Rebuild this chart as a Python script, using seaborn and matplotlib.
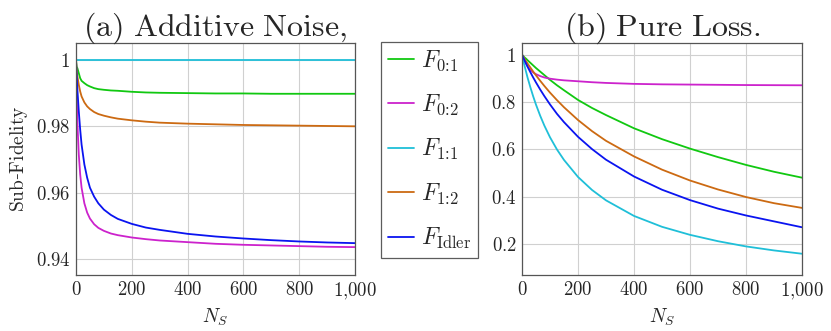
import numpy as np
import pandas as pd
import seaborn as sns
import matplotlib
matplotlib.use("Agg")
import matplotlib.pyplot as plt

sns.set_theme(style="white")
plt.rcParams['mathtext.fontset'] = 'cm'
plt.rcParams['font.family'] = ['DejaVu Serif']

N = [0, 2, 5, 10, 15, 20, 30, 40, 50, 65, 80, 100, 125, 150, 200, 250, 300, 400, 500, 600, 700, 800, 900, 1000]

# (a) Additive noise
a_F01 = [1.0, 0.998, 0.9975, 0.996, 0.9945, 0.9937, 0.993, 0.9924, 0.992, 0.9915, 0.9912, 0.991, 0.9908, 0.9907,
         0.9904, 0.9902, 0.9901, 0.9900, 0.9899, 0.9899, 0.9898, 0.9898, 0.9898, 0.9898]
a_F02 = [1.0, 0.991, 0.981, 0.9715, 0.9655, 0.9615, 0.9568, 0.954, 0.9522, 0.9505, 0.9494, 0.9485, 0.9477, 0.9472,
         0.9465, 0.946, 0.9456, 0.9451, 0.9446, 0.9443, 0.9441, 0.9439, 0.9437, 0.9436]
a_F11 = [1.0] * 24
a_F12 = [1.0, 0.997, 0.995, 0.9925, 0.9905, 0.989, 0.9872, 0.986, 0.9852, 0.9843, 0.9837, 0.9832, 0.9827, 0.9823,
         0.9818, 0.9814, 0.9811, 0.9808, 0.9806, 0.9804, 0.9803, 0.9802, 0.9801, 0.9800]
a_Fid = [1.0, 0.996, 0.991, 0.9845, 0.979, 0.9745, 0.9685, 0.9645, 0.9615, 0.9588, 0.9568, 0.9549, 0.9533, 0.9521,
         0.9506, 0.9495, 0.9488, 0.9476, 0.9468, 0.9462, 0.9457, 0.9453, 0.9450, 0.9448]

# (b) Pure loss
b_F01 = [1.0, 0.998, 0.994, 0.988, 0.983, 0.977, 0.966, 0.955, 0.944, 0.929, 0.914, 0.894, 0.871, 0.85,
         0.809, 0.775, 0.745, 0.689, 0.643, 0.603, 0.567, 0.534, 0.505, 0.48]
b_F02 = [1.0, 0.994, 0.985, 0.972, 0.961, 0.951, 0.936, 0.925, 0.918, 0.91, 0.904, 0.899, 0.895, 0.892,
         0.888, 0.884, 0.881, 0.877, 0.875, 0.874, 0.873, 0.872, 0.8715, 0.871]
b_F11 = [1.0, 0.989, 0.974, 0.949, 0.926, 0.903, 0.862, 0.824, 0.789, 0.742, 0.700, 0.651, 0.599, 0.555,
         0.483, 0.428, 0.384, 0.318, 0.272, 0.238, 0.211, 0.189, 0.172, 0.158]
b_F12 = [1.0, 0.996, 0.991, 0.981, 0.972, 0.963, 0.946, 0.929, 0.913, 0.89, 0.868, 0.84, 0.808, 0.778,
         0.724, 0.677, 0.636, 0.57, 0.514, 0.468, 0.43, 0.398, 0.372, 0.352]
b_Fid = [1.0, 0.995, 0.987, 0.974, 0.962, 0.949, 0.926, 0.904, 0.883, 0.853, 0.825, 0.79, 0.75, 0.715,
         0.653, 0.601, 0.556, 0.485, 0.429, 0.385, 0.349, 0.32, 0.295, 0.27]

labels = [r"$F_{0\!:\!1}$", r"$F_{0\!:\!2}$", r"$F_{1\!:\!1}$", r"$F_{1\!:\!2}$", r"$F_{\mathrm{Idler}}$"]
colors = ["#11c811", "#cc22cc", "#1fbfd8", "#cc6a12", "#0a14f0"]

def longform(series):
    rows = []
    for lab, vals in zip(labels, series):
        for n, v in zip(N, vals):
            rows.append((n, v, lab))
    return pd.DataFrame(rows, columns=["N", "F", "series"])

dfa = longform([a_F01, a_F02, a_F11, a_F12, a_Fid])
dfb = longform([b_F01, b_F02, b_F11, b_F12, b_Fid])
pal = dict(zip(labels, colors))

fig = plt.figure(figsize=(8.31, 3.31), dpi=100)
axa = fig.add_axes([76/831, 56/331, 279/831, 232/331])
axb = fig.add_axes([522/831, 56/331, 280/831, 232/331])

sns.lineplot(data=dfa, x="N", y="F", hue="series", palette=pal, ax=axa, linewidth=1.3, legend=True)
sns.lineplot(data=dfb, x="N", y="F", hue="series", palette=pal, ax=axb, linewidth=1.3, legend=False)

handles, labs = axa.get_legend_handles_labels()
axa.get_legend().remove()

xt = [0, 200, 400, 600, 800, 1000]
xtl = ["$0$", "$200$", "$400$", "$600$", "$800$", "$1{,}000$"]
for ax in (axa, axb):
    ax.set_xlim(0, 1000)
    ax.set_xticks(xt)
    ax.set_xticklabels(xtl, fontsize=13.5)
    ax.grid(True, color="#d0d0d0", linewidth=0.8)
    ax.set_axisbelow(True)
    for s in ax.spines.values():
        s.set_color("#555555")
        s.set_linewidth(0.9)
    ax.tick_params(direction="in", length=3, color="#777777", pad=4)
    ax.set_xlabel(r"$N_S$", fontsize=14, labelpad=4)

axa.set_ylim(0.9352, 1.0051)
axa.set_yticks([0.94, 0.96, 0.98, 1.0])
axa.set_yticklabels(["$0.94$", "$0.96$", "$0.98$", "$1$"], fontsize=13.5)
axa.set_ylabel(r"$\mathrm{Sub}$-$\mathrm{Fidelity}$", fontsize=14, labelpad=4)
axa.set_title(r"$\mathrm{(a)\ Additive\ Noise,}$", fontsize=23, pad=5)

axb.set_ylim(0.068, 1.05)
axb.set_yticks([0.2, 0.4, 0.6, 0.8, 1.0])
axb.set_yticklabels(["$0.2$", "$0.4$", "$0.6$", "$0.8$", "$1$"], fontsize=13.5)
axb.set_ylabel("")
axb.set_title(r"$\mathrm{(b)\ Pure\ Loss.}$", fontsize=23, pad=5)

leg = fig.legend(handles, labs, loc="upper left", bbox_to_anchor=(381/831, 1 - 42/331),
                 fontsize=17, frameon=True, fancybox=False, edgecolor="#333333",
                 handlelength=1.1, handletextpad=0.3, labelspacing=0.83,
                 borderpad=0.3, borderaxespad=0)
leg.get_frame().set_linewidth(0.9)

fig.savefig("out.png", dpi=100)
